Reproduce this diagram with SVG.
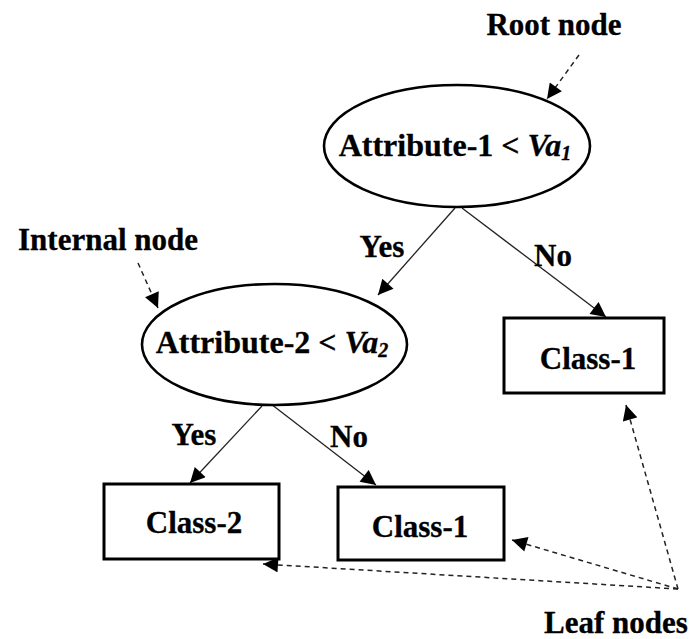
<svg xmlns="http://www.w3.org/2000/svg" width="691" height="639" viewBox="0 0 691 639">
<style>
text{font-family:"Liberation Serif","Times New Roman",serif;font-weight:bold;font-size:31px;fill:#000;stroke:#000;stroke-width:0.3}
.big{font-size:32px}
.node{fill:#fff;stroke:#000;stroke-width:2.6}
.box{fill:#fff;stroke:#000;stroke-width:3}
.edge{stroke:#222;stroke-width:1.3;fill:none}
.dash{stroke:#222;stroke-width:1.5;fill:none;stroke-dasharray:5 4}
.it{font-style:italic}
.sub{font-style:italic;font-size:20px}
</style>
<defs>
<marker id="ah" viewBox="0 0 10 10" refX="10" refY="5" markerUnits="userSpaceOnUse" markerWidth="17" markerHeight="15" orient="auto">
<path d="M0,0 L10,5 L0,10 z" fill="#000"/>
</marker>
</defs>
<rect width="691" height="639" fill="#fff"/>
<g id="connectors">
<line class="edge" x1="455" y1="208" x2="378" y2="295" marker-end="url(#ah)"/>
<line class="edge" x1="462" y1="208" x2="606" y2="317" marker-end="url(#ah)"/>
<line class="edge" x1="262" y1="406" x2="190" y2="483" marker-end="url(#ah)"/>
<line class="edge" x1="271" y1="404" x2="376" y2="485" marker-end="url(#ah)"/>
<line class="dash" x1="579" y1="55" x2="547" y2="99" marker-end="url(#ah)"/>
<line class="dash" x1="138" y1="263" x2="158" y2="308" marker-end="url(#ah)"/>
<line class="dash" x1="678" y1="589" x2="263" y2="564" marker-end="url(#ah)"/>
<line class="dash" x1="678" y1="589" x2="512" y2="540" marker-end="url(#ah)"/>
<line class="dash" x1="678" y1="589" x2="626" y2="405" marker-end="url(#ah)"/>
<text x="382" y="257" text-anchor="middle">Yes</text>
<text x="553" y="266" text-anchor="middle">No</text>
<text x="194" y="445" text-anchor="middle">Yes</text>
<text x="349" y="447" text-anchor="middle">No</text>
</g>
<g id="root-label"><text x="554" y="35" text-anchor="middle">Root node</text></g>
<g id="internal-label"><text x="108" y="250" text-anchor="middle">Internal node</text></g>
<g id="leaf-label"><text x="616" y="633" text-anchor="middle">Leaf nodes</text></g>
<g id="root">
<ellipse class="node" cx="457" cy="146" rx="133" ry="61"/>
<text class="big" x="455" y="156" text-anchor="middle">Attribute-1 &lt; <tspan class="it">Va</tspan><tspan class="sub" dy="4">1</tspan></text>
</g>
<g id="internal">
<ellipse class="node" cx="274.5" cy="344.5" rx="132.5" ry="60.5"/>
<text class="big" x="272" y="353" text-anchor="middle">Attribute-2 &lt; <tspan class="it">Va</tspan><tspan class="sub" dy="4">2</tspan></text>
</g>
<g id="class1-right">
<rect class="box" x="504" y="318" width="160" height="75"/>
<text x="588" y="369" text-anchor="middle">Class-1</text>
</g>
<g id="class2">
<rect class="box" x="104" y="484" width="175" height="75"/>
<text x="194" y="533" text-anchor="middle">Class-2</text>
</g>
<g id="class1-mid">
<rect class="box" x="338" y="487" width="166" height="73"/>
<text x="420" y="537" text-anchor="middle">Class-1</text>
</g>
</svg>
